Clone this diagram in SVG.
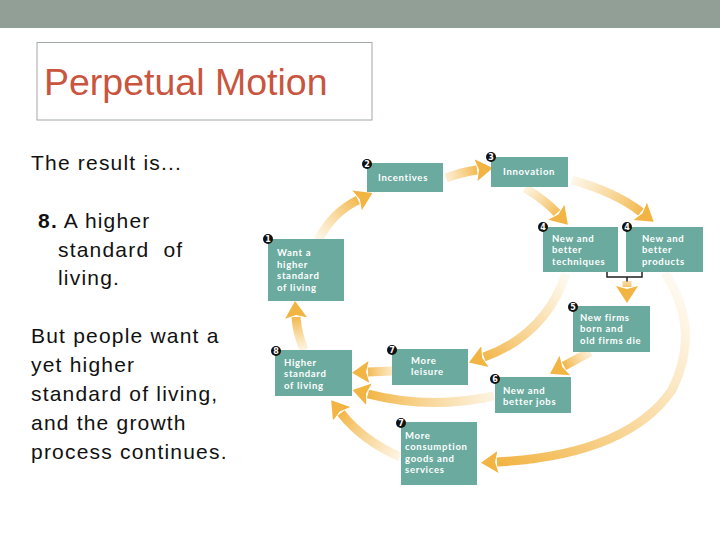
<svg xmlns="http://www.w3.org/2000/svg" width="720" height="540" viewBox="0 0 720 540">
<style>
.node{fill:#6BAB9F}
.nt{font-family:Lato,"Open Sans","DejaVu Sans",sans-serif;font-weight:bold;font-size:9.5px;letter-spacing:0.7px;fill:#ffffff}
.badge{fill:#111}
.bt{font-family:"DejaVu Sans",sans-serif;font-weight:bold;font-size:8px;fill:#fff;text-anchor:middle}
.body{font-family:"Liberation Sans",Arial,sans-serif;font-size:21px;letter-spacing:1.2px;fill:#111}
.arr{fill:none;stroke-width:9;stroke-linecap:butt}
</style>
<defs>
<marker id="ah" markerUnits="userSpaceOnUse" markerWidth="26" markerHeight="26" viewBox="0 0 26 26" refX="1" refY="13" orient="auto">
<path d="M0,2 L17,13 L0,24 L3,13 Z" fill="#F2B443"/>
</marker>
<linearGradient id="g12" gradientUnits="userSpaceOnUse" x1="318" y1="240" x2="362" y2="198"><stop offset="0" stop-color="#F6C56A" stop-opacity="0.15"/><stop offset="1" stop-color="#F2B443"/></linearGradient>
<linearGradient id="g23" gradientUnits="userSpaceOnUse" x1="446" y1="178" x2="480" y2="170"><stop offset="0" stop-color="#F6C56A" stop-opacity="0.3"/><stop offset="1" stop-color="#F2B443"/></linearGradient>
<linearGradient id="g34a" gradientUnits="userSpaceOnUse" x1="525" y1="188" x2="560" y2="218"><stop offset="0" stop-color="#F6C56A" stop-opacity="0.2"/><stop offset="1" stop-color="#F2B443"/></linearGradient>
<linearGradient id="g34b" gradientUnits="userSpaceOnUse" x1="572" y1="180" x2="645" y2="215"><stop offset="0" stop-color="#F6C56A" stop-opacity="0.15"/><stop offset="1" stop-color="#F2B443"/></linearGradient>
<linearGradient id="g5" gradientUnits="userSpaceOnUse" x1="627" y1="280" x2="627" y2="290"><stop offset="0" stop-color="#F6C56A" stop-opacity="0.5"/><stop offset="1" stop-color="#F2B443"/></linearGradient>
<linearGradient id="g56" gradientUnits="userSpaceOnUse" x1="588" y1="352" x2="563" y2="367"><stop offset="0" stop-color="#F6C56A" stop-opacity="0.3"/><stop offset="1" stop-color="#F2B443"/></linearGradient>
<linearGradient id="g47a" gradientUnits="userSpaceOnUse" x1="565" y1="275" x2="480" y2="360"><stop offset="0" stop-color="#F6C56A" stop-opacity="0.1"/><stop offset="1" stop-color="#F2B443"/></linearGradient>
<linearGradient id="g68" gradientUnits="userSpaceOnUse" x1="494" y1="396" x2="365" y2="392"><stop offset="0" stop-color="#F6C56A" stop-opacity="0.2"/><stop offset="1" stop-color="#F2B443"/></linearGradient>
<linearGradient id="g7a8" gradientUnits="userSpaceOnUse" x1="392" y1="371" x2="365" y2="373"><stop offset="0" stop-color="#F6C56A" stop-opacity="0.4"/><stop offset="1" stop-color="#F2B443"/></linearGradient>
<linearGradient id="g7b8" gradientUnits="userSpaceOnUse" x1="400" y1="455" x2="340" y2="410"><stop offset="0" stop-color="#F6C56A" stop-opacity="0.2"/><stop offset="1" stop-color="#F2B443"/></linearGradient>
<linearGradient id="g47b" gradientUnits="userSpaceOnUse" x1="665" y1="275" x2="495" y2="460"><stop offset="0" stop-color="#F6C56A" stop-opacity="0.1"/><stop offset="1" stop-color="#F2B443"/></linearGradient>
<linearGradient id="g81" gradientUnits="userSpaceOnUse" x1="303" y1="350" x2="296" y2="315"><stop offset="0" stop-color="#F6C56A" stop-opacity="0.2"/><stop offset="1" stop-color="#F2B443"/></linearGradient>
</defs>

<rect x="0" y="0" width="720" height="28" fill="#929F97"/>
<rect x="37" y="42.5" width="335" height="77.5" fill="#fff" stroke="#A3A8A8" stroke-width="1"/>
<text x="44" y="95" font-family="'Liberation Sans',Arial,sans-serif" font-size="37.5" fill="#C9553F">Perpetual Motion</text>

<g id="bodytext">
<text class="body" x="31" y="170">The result is...</text>
<text class="body" x="38" y="228"><tspan font-weight="bold">8.</tspan> A higher</text>
<text class="body" x="58" y="257" xml:space="preserve">standard  of</text>
<text class="body" x="58" y="285">living.</text>
<text class="body" x="31" y="343">But people want a</text>
<text class="body" x="31" y="372">yet higher</text>
<text class="body" x="31" y="401">standard of living,</text>
<text class="body" x="31" y="430">and the growth</text>
<text class="body" x="31" y="459">process continues.</text>
</g>

<g id="connectors">
<path class="arr" stroke="url(#g12)" d="M318,240 Q333,212 358,200" marker-end="url(#ah)"/>
<path class="arr" stroke="url(#g23)" d="M446,178 Q462,172 477,170" marker-end="url(#ah)"/>
<path class="arr" stroke="url(#g34a)" d="M525,188 Q545,200 557,213" marker-end="url(#ah)"/>
<path class="arr" stroke="url(#g34b)" d="M572,180 Q615,192 641,212" marker-end="url(#ah)"/>
<path d="M607,272 V277 H642 V272 M627,277 V282" fill="none" stroke="#222" stroke-width="1.5"/>
<path class="arr" stroke="url(#g5)" d="M627,281 V287" marker-end="url(#ah)"/>
<path class="arr" stroke="url(#g56)" d="M590,352 Q575,360 564,366" marker-end="url(#ah)"/>
<path class="arr" stroke="url(#g47a)" d="M566,274 Q545,335 484,357" marker-end="url(#ah)"/>
<path class="arr" stroke="url(#g68)" d="M494,396 Q430,410 368,394" marker-end="url(#ah)"/>
<path class="arr" stroke="url(#g7a8)" d="M392,371 L368,372" marker-end="url(#ah)"/>
<path class="arr" stroke="url(#g7b8)" d="M400,457 Q362,440 341,413" marker-end="url(#ah)"/>
<path class="arr" stroke="url(#g47b)" d="M665,273 Q702,330 672,390 Q627,455 497,462" marker-end="url(#ah)"/>
<path class="arr" stroke="url(#g81)" d="M304,350 Q297,333 296,317" marker-end="url(#ah)"/>
</g>

<g id="n1"><rect class="node" x="268" y="239" width="76" height="62"/><text class="nt"><tspan x="277" y="256">Want a</tspan><tspan x="277" y="267.5">higher</tspan><tspan x="277" y="279">standard</tspan><tspan x="277" y="290.5">of living</tspan></text><circle class="badge" cx="268" cy="239" r="5"/><text class="bt" x="268" y="242">1</text></g>
<g id="n2"><rect class="node" x="367" y="163" width="76" height="29"/><text class="nt" x="378" y="181">Incentives</text><circle class="badge" cx="367" cy="164" r="5"/><text class="bt" x="367" y="167">2</text></g>
<g id="n3"><rect class="node" x="491" y="157" width="77" height="30"/><text class="nt" x="503" y="175">Innovation</text><circle class="badge" cx="491" cy="157" r="5"/><text class="bt" x="491" y="160">3</text></g>
<g id="n4a"><rect class="node" x="543" y="227" width="75" height="45"/><text class="nt"><tspan x="552" y="241.5">New and</tspan><tspan x="552" y="253">better</tspan><tspan x="552" y="264.5">techniques</tspan></text><circle class="badge" cx="543" cy="227" r="5"/><text class="bt" x="543" y="230">4</text></g>
<g id="n4b"><rect class="node" x="626" y="227" width="77" height="45"/><text class="nt"><tspan x="642" y="241.5">New and</tspan><tspan x="642" y="253">better</tspan><tspan x="642" y="264.5">products</tspan></text><circle class="badge" cx="627" cy="227" r="5"/><text class="bt" x="627" y="230">4</text></g>
<g id="n5"><rect class="node" x="573" y="306" width="77" height="46"/><text class="nt"><tspan x="580" y="320.5">New firms</tspan><tspan x="580" y="332">born and</tspan><tspan x="580" y="343.5">old firms die</tspan></text><circle class="badge" cx="573" cy="307" r="5"/><text class="bt" x="573" y="310">5</text></g>
<g id="n6"><rect class="node" x="495" y="377" width="76" height="36"/><text class="nt"><tspan x="503" y="393.5">New and</tspan><tspan x="503" y="405">better jobs</tspan></text><circle class="badge" cx="495" cy="379" r="5"/><text class="bt" x="495" y="382">6</text></g>
<g id="n7a"><rect class="node" x="392" y="349" width="76" height="36"/><text class="nt"><tspan x="411" y="363.5">More</tspan><tspan x="411" y="375">leisure</tspan></text><circle class="badge" cx="392" cy="350" r="5"/><text class="bt" x="392" y="353">7</text></g>
<g id="n7b"><rect class="node" x="401" y="422" width="76" height="63"/><text class="nt"><tspan x="405" y="438.5">More</tspan><tspan x="405" y="450">consumption</tspan><tspan x="405" y="461.5">goods and</tspan><tspan x="405" y="473">services</tspan></text><circle class="badge" cx="401" cy="423" r="5"/><text class="bt" x="401" y="426">7</text></g>
<g id="n8"><rect class="node" x="275" y="350" width="77" height="46"/><text class="nt"><tspan x="284" y="365.5">Higher</tspan><tspan x="284" y="377">standard</tspan><tspan x="284" y="388.5">of living</tspan></text><circle class="badge" cx="276" cy="351" r="5"/><text class="bt" x="276" y="354">8</text></g>
</svg>
